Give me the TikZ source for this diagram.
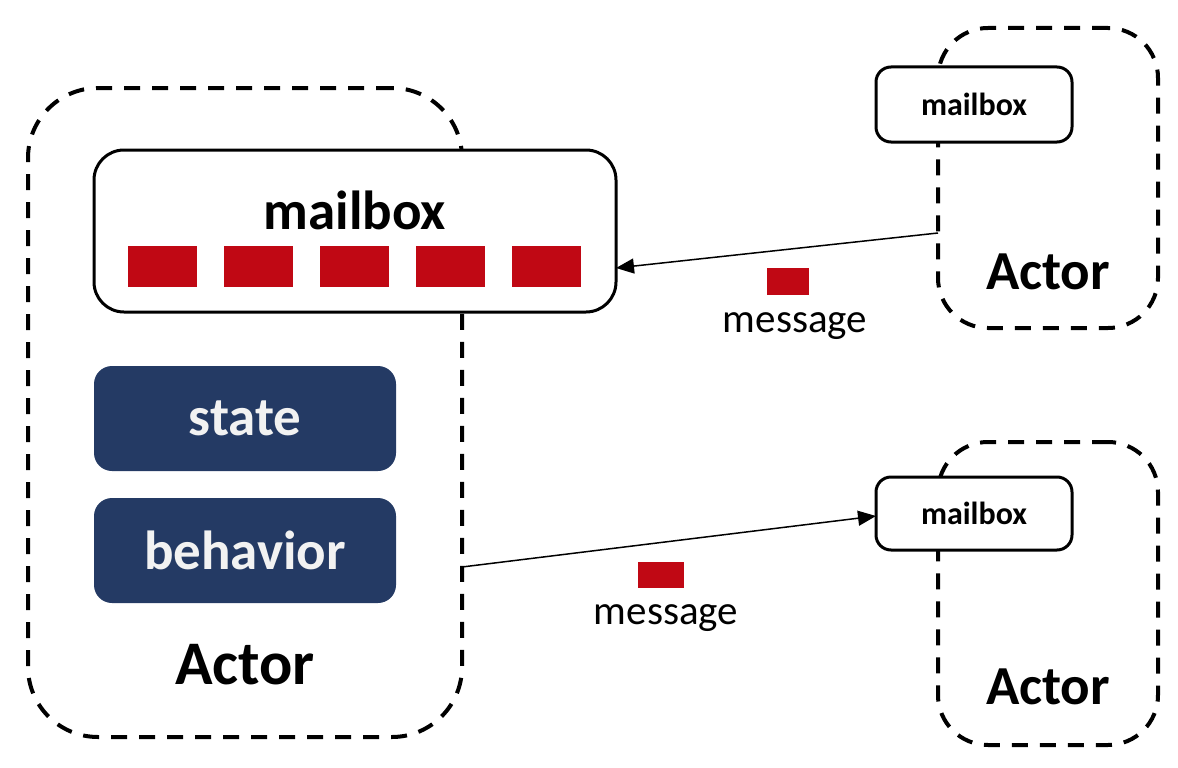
\documentclass[tikz,border=0pt]{standalone}
\usepackage{fontspec}
\setmainfont{Carlito}
\usetikzlibrary{arrows.meta}
\definecolor{navy}{HTML}{243A64}
\definecolor{msgred}{HTML}{C00814}
\definecolor{lightw}{HTML}{F2F2F2}
\begin{document}
\begin{tikzpicture}[x=1pt,y=-1pt,
  actorbox/.style={draw, dash pattern=on 16pt off 12pt, line width=4pt, inner sep=0pt, outer sep=0pt},
  mbox/.style={draw, fill=white, line width=3pt, inner sep=0pt, outer sep=0pt},
  statebox/.style={fill=navy, rounded corners=18pt, minimum width=302pt, minimum height=105pt, inner sep=0pt, text=lightw, font=\fontsize{55}{60}\selectfont\bfseries},
  sq/.style={fill=msgred, inner sep=0pt},
  actortext/.style={font=\fontsize{#1}{#1}\selectfont\bfseries, inner sep=0pt},
  msgtext/.style={font=\fontsize{41}{44}\selectfont, inner sep=0pt, anchor=base},
  msgarrow/.style={line width=1.5pt, -{Triangle[length=18pt,width=15pt]}}
]
\useasboundingbox (0,0) rectangle (1178,768);
% big actor
\node[actorbox, rounded corners=70pt, minimum width=434pt, minimum height=649pt] (act1) at (245,412.5) {};
\node[mbox, rounded corners=30pt, minimum width=522pt, minimum height=162pt] (mb1) at (355,231) {};
\node[actortext=55] (mb1t) at (355,210) {mailbox};
\foreach \i/\x in {1/162.5,2/258.5,3/354.5,4/450.5,5/546.5}
  \node[sq, minimum width=69pt, minimum height=41pt] (q\i) at (\x,266.5) {};
\node[statebox] (state) at (245,418.5) {state};
\node[statebox] (behav) at (245,550.5) {behavior};
\node[actortext=62] (a1t) at (245,665) {Actor};
% top right actor
\node[actorbox, rounded corners=50pt, minimum width=220pt, minimum height=300pt] (act2) at (1048,178) {};
\node[mbox, rounded corners=15pt, minimum width=196pt, minimum height=75pt, font=\fontsize{32}{34}\selectfont\bfseries] (mb2) at (974,104.5) {mailbox};
\node[actortext=55] (a2t) at (1048,272) {Actor};
% bottom right actor
\node[actorbox, rounded corners=50pt, minimum width=220pt, minimum height=303pt] (act3) at (1048,593.5) {};
\node[mbox, rounded corners=15pt, minimum width=196pt, minimum height=73pt, font=\fontsize{32}{34}\selectfont\bfseries] (mb3) at (974,513.5) {mailbox};
\node[actortext=55] (a3t) at (1048,687) {Actor};
% messages
\coordinate (s1) at (act2.west |- 0,233);
\coordinate (e1) at (mb1.east |- 0,268);
\draw[msgarrow] (s1) -- (e1);
\node[sq, minimum width=42pt, minimum height=27pt] (m1) at (788,281.5) {};
\node[msgtext] (m1t) at (795,332) {message};
\coordinate (s2) at (act1.east |- 0,567);
\coordinate (e2) at (mb3.west |- 0,516);
\draw[msgarrow] (s2) -- (e2);
\node[sq, minimum width=46pt, minimum height=26pt] (m2) at (661,575) {};
\node[msgtext] (m2t) at (666,624) {message};
\end{tikzpicture}
\end{document}
